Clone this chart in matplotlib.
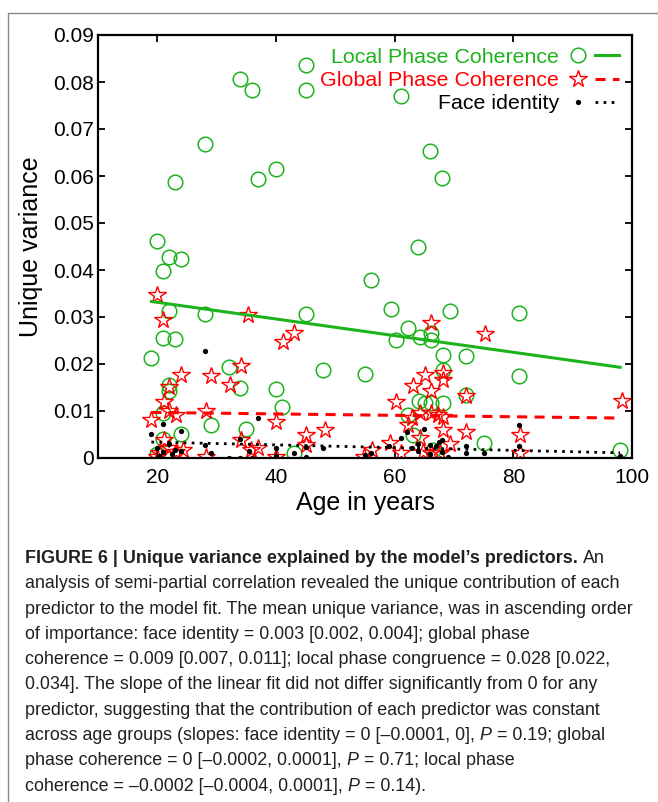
import matplotlib
matplotlib.use("Agg")
import matplotlib.pyplot as plt
from matplotlib.lines import Line2D
from matplotlib.legend_handler import HandlerTuple
from matplotlib.patches import Rectangle
from matplotlib.ticker import FuncFormatter

# --- data ---------------------------------------------------------------
local_age = [19, 20, 21, 22, 24, 23, 28, 34, 36, 37, 40, 45, 45, 61, 66, 68,
             64, 56, 59.4, 69.3, 62.2, 60.3, 64.2, 66.2, 66.2, 68.1, 72.1, 81,
             81, 68.1, 72.1, 75, 98, 22, 21, 23, 28, 45, 48, 55, 32, 34, 40,
             41, 29, 35, 22, 22, 21, 21, 24, 20, 43, 62.2, 63.1, 64.1, 65.1,
             66.2, 68.2, 67, 66.4]
local_val = [0.0212, 0.0461, 0.0398, 0.0427, 0.0423, 0.0587, 0.0669, 0.0806,
             0.0784, 0.0594, 0.0615, 0.0836, 0.0784, 0.0770, 0.0654, 0.0596,
             0.0448, 0.0379, 0.0318, 0.0313, 0.0277, 0.0251, 0.0257, 0.0266,
             0.0250, 0.0219, 0.0216, 0.0309, 0.0174, 0.0187, 0.0133, 0.0032,
             0.0016, 0.0312, 0.0255, 0.0253, 0.0306, 0.0306, 0.0187, 0.0178,
             0.0194, 0.0148, 0.0147, 0.0109, 0.0071, 0.0062, 0.0156, 0.0142,
             0.0095, 0.0040, 0.0050, 0.0008, 0.0011, 0.0092, 0.0048, 0.0121,
             0.0118, 0.0118, 0.0116, 0.0002, 0.0017]

global_age = [20, 21, 35.3, 41.2, 43.1, 66.2, 75.2, 68.2, 68.2, 65.1, 63.1,
              66.2, 60.2, 72.1, 98.3, 24, 29, 32.2, 34.1, 22, 21.2, 22, 23.2,
              19, 28.2, 21.2, 24.3, 22, 28.2, 20.3, 23.2, 40, 34.1, 36.9, 35.8,
              40, 45.1, 45.1, 48.2, 56.1, 54.9, 59.2, 62.2, 64.2, 66.2, 67.3,
              68.1, 68.2, 72.1, 64.2, 69.3, 61.1, 64.8, 66.2, 67.6, 81.1, 81.1,
              63, 20]
global_val = [0.0346, 0.0294, 0.0305, 0.0246, 0.0267, 0.0288, 0.0263, 0.0181,
              0.0167, 0.0176, 0.0154, 0.0142, 0.0119, 0.0132, 0.0122, 0.0177,
              0.0174, 0.0156, 0.0196, 0.0150, 0.0119, 0.0099, 0.0092, 0.0081,
              0.0101, 0.0038, 0.0017, 0.0021, 0.0003, 0.0011, 0.0013, 0.0077,
              0.0038, 0.0021, 0.0017, 0.0003, 0.0049, 0.0028, 0.0060, 0.0018,
              0.0003, 0.0031, 0.0070, 0.0095, 0.0095, 0.0091, 0.0088, 0.0060,
              0.0056, 0.0042, 0.0030, 0.0010, 0.0013, 0.0011, 0.0010, 0.0049,
              0.0010, 0.0085, 0.0003]

face_age = [28, 37, 21, 19, 24, 20, 20.3, 21, 22, 22.5, 23, 24, 28, 29, 32, 34,
            34, 36, 35.5, 40, 40, 43, 45, 45, 48, 55, 56, 59, 61, 62, 63, 64,
            65, 64, 66, 66, 67, 67.5, 68, 68, 69, 72, 72, 75, 81, 81, 98]
face_val = [0.0228, 0.0085, 0.0073, 0.0050, 0.0057, 0.0021, 0.0005, 0.0013,
            0.0030, 0.0008, 0.0018, 0.0014, 0.0028, 0.0010, 0.0001, 0.0001,
            0.0040, 0.0001, 0.0015, 0.0021, 0.0004, 0.0011, 0.0023, 0.0003,
            0.0021, 0.0007, 0.0010, 0.0025, 0.0043, 0.0055, 0.0022, 0.0030,
            0.0062, 0.0015, 0.0028, 0.0008, 0.0026, 0.0034, 0.0039, 0.0012,
            0.0002, 0.0025, 0.0011, 0.0011, 0.0071, 0.0025, 0.0004]

# linear fits (values at the ends of the age range)
fit_age = [19, 98]
local_fit = [0.0333, 0.0193]
global_fit = [0.0097, 0.0085]
face_fit = [0.0034, 0.0011]

legend_labels = ["Local Phase Coherence", "Global Phase Coherence", "Face identity"]
x_ticks = [20, 40, 60, 80, 100]
y_ticks = [0, 0.01, 0.02, 0.03, 0.04, 0.05, 0.06, 0.07, 0.08, 0.09]

caption_lines = [
    [("FIGURE 6 | Unique variance explained by the model\u2019s predictors.", "bold", "normal"),
     ("An", "normal", "normal")],
    [("analysis of semi-partial correlation revealed the unique contribution of each", "normal", "normal")],
    [("predictor to the model fit. The mean unique variance, was in ascending order", "normal", "normal")],
    [("of importance: face identity = 0.003 [0.002, 0.004]; global phase", "normal", "normal")],
    [("coherence = 0.009 [0.007, 0.011]; local phase congruence = 0.028 [0.022,", "normal", "normal")],
    [("0.034]. The slope of the linear fit did not differ significantly from 0 for any", "normal", "normal")],
    [("predictor, suggesting that the contribution of each predictor was constant", "normal", "normal")],
    [("across age groups (slopes: face identity = 0 [\u20130.0001, 0],", "normal", "normal"),
     ("P", "normal", "italic"), ("= 0.19; global", "normal", "normal")],
    [("phase coherence = 0 [\u20130.0002, 0.0001],", "normal", "normal"),
     ("P", "normal", "italic"), ("= 0.71; local phase", "normal", "normal")],
    [("coherence = \u20130.0002 [\u20130.0004, 0.0001],", "normal", "normal"),
     ("P", "normal", "italic"), ("= 0.14).", "normal", "normal")],
]

GREEN = "#1db31d"
RED = "#ff0000"
BLACK = "#000000"
TEXT = "#231f20"
CAPTION_FONT = ["Liberation Sans Narrow", "Liberation Sans", "DejaVu Sans"]

plt.rcParams["font.family"] = ["Liberation Sans", "DejaVu Sans"]

fig = plt.figure(figsize=(6.58, 8.02), dpi=100)

# frame around the whole figure panel
frame = fig.add_axes([0, 0, 1, 1], zorder=-1)
frame.set_xlim(0, 658)
frame.set_ylim(802, 0)
frame.axis("off")
frame.add_patch(Rectangle((8, 13), 700, 850, fill=False, edgecolor="#8a8a8a", lw=1.0))

ax = fig.add_axes([98 / 658, 1 - 458 / 802, (632 - 98) / 658, (458 - 35) / 802])

mk = dict(ls="none")
ax.plot(local_age, local_val, marker="o", ms=10.5, mfc="none", mec=GREEN, mew=1.1, **mk)
ax.plot(global_age, global_val, marker="*", ms=13, mfc="none", mec=RED, mew=1.0, **mk)
ax.plot(face_age, face_val, marker="o", ms=3.8, mfc=BLACK, mec=BLACK, mew=0, **mk)

ax.plot(fit_age, local_fit, color=GREEN, lw=2.2)
ax.plot(fit_age, global_fit, color=RED, lw=2.2, ls=(0, (3.3, 2.4)))
ax.plot(fit_age, face_fit, color=BLACK, lw=2.0, ls=(0, (1, 1.9)))

ax.set_xlim(10, 100)
ax.set_ylim(0, 0.09)
ax.set_xticks(x_ticks)
ax.set_yticks(y_ticks)
ax.yaxis.set_major_formatter(FuncFormatter(lambda v, p: "%g" % round(v, 3)))
ax.tick_params(direction="in", top=True, right=True, length=5, width=1.3,
               labelsize=15, colors=BLACK)
ax.tick_params(axis="x", pad=7)
ax.tick_params(axis="y", pad=3)
for s in ax.spines.values():
    s.set_linewidth(1.6)
ax.set_xlabel("Age in years", fontsize=18, labelpad=3)
ax.set_ylabel("Unique variance", fontsize=18, labelpad=7)

h_local = (Line2D([], [], ls="none", marker="o", ms=10.5, mfc="none", mec=GREEN, mew=1.1),
           Line2D([], [], color=GREEN, lw=2.2))
h_global = (Line2D([], [], ls="none", marker="*", ms=13, mfc="none", mec=RED, mew=1.0),
            Line2D([], [], color=RED, lw=2.2, ls=(0, (3.3, 2.4))))
h_face = (Line2D([], [], ls="none", marker="o", ms=3.8, mfc=BLACK, mec=BLACK, mew=0),
          Line2D([], [], color=BLACK, lw=2.0, ls=(0, (1, 1.9))))
leg = ax.legend([h_local, h_global, h_face], legend_labels,
                handler_map={tuple: HandlerTuple(ndivide=None, pad=0.2)},
                markerfirst=False, frameon=False, loc="upper right",
                fontsize=15.4, handlelength=2.5, handletextpad=0.3,
                labelspacing=0.2, borderpad=0.3, borderaxespad=0.3)
for t, c in zip(leg.get_texts(), [GREEN, RED, BLACK]):
    t.set_color(c)

# caption, laid out line by line in pixel units
fig.canvas.draw()
renderer = fig.canvas.get_renderer()
cap_size = 12.85


def text_width(s, weight="normal", style="normal"):
    t = frame.text(0, 0, s, fontsize=cap_size, fontweight=weight, fontstyle=style,
                   family=CAPTION_FONT)
    w = t.get_window_extent(renderer).width
    t.remove()
    return w


space = text_width("x x") - text_width("xx")
y = 563
for line in caption_lines:
    x = 25
    for i, (s, weight, style) in enumerate(line):
        t = frame.text(x, y, s, fontsize=cap_size, fontweight=weight, fontstyle=style,
                       family=CAPTION_FONT, color=TEXT, va="baseline", ha="left")
        x += t.get_window_extent(renderer).width + space
    y += 25.3

fig.savefig("out.png", dpi=100)
